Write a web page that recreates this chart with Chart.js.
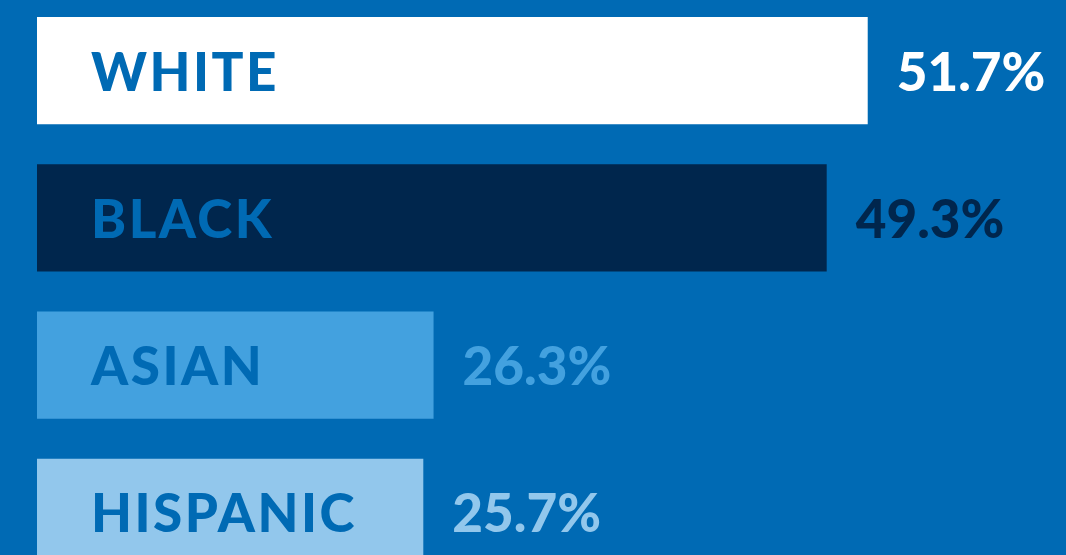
<!DOCTYPE html>
<html>
<head>
<meta charset="utf-8">
<script src="https://cdn.jsdelivr.net/npm/chart.js@4"></script>
<style>
  html, body { margin: 0; padding: 0; background: #006ab4; overflow: hidden; }
  #wrap { position: absolute; left: 0; top: -3px; width: 1066px; height: 589px; }
</style>
</head>
<body>
<div id="wrap"><canvas id="bars"></canvas></div>
<script>
// data
const groups = ['WHITE', 'BLACK', 'ASIAN', 'HISPANIC'];
const shares = [51.7, 49.3, 26.3, 25.7];

const bg = '#006ab4';
const barColors = ['#ffffff', '#00264d', '#43a1df', '#92c7ec'];
const valueColors = ['#ffffff', '#00264d', '#43a1df', '#92c7ec'];
const FONT = '"Lato", sans-serif';

// draws the group name inside each bar and the value after it
const labelPlugin = {
  id: 'barLabels',
  afterDatasetsDraw(chart) {
    const ctx = chart.ctx;
    const meta = chart.getDatasetMeta(0);
    ctx.save();
    ctx.textBaseline = 'alphabetic';
    ctx.textAlign = 'left';
    meta.data.forEach((bar, i) => {
      const y = bar.y + 20;
      ctx.font = '900 53px ' + FONT;
      ctx.letterSpacing = '2.5px';
      ctx.fillStyle = bg;
      ctx.fillText(groups[i], chart.chartArea.left + 54, y);
      ctx.letterSpacing = '0px';
      ctx.fillStyle = valueColors[i];
      ctx.fillText(shares[i].toFixed(1) + '%', bar.x + 29, y);
    });
    ctx.restore();
  }
};

new Chart(document.getElementById('bars'), {
  type: 'bar',
  data: {
    labels: groups,
    datasets: [{
      data: shares,
      backgroundColor: barColors,
      borderWidth: 0,
      barPercentage: 0.727,
      categoryPercentage: 1
    }]
  },
  options: {
    indexAxis: 'y',
    responsive: true,
    maintainAspectRatio: false,
    animation: false,
    layout: { padding: { left: 37, right: 0, top: 0, bottom: 0 } },
    plugins: {
      legend: { display: false },
      tooltip: { enabled: false }
    },
    scales: {
      x: { display: false, min: 3.1, max: 63.3 },
      y: { display: false }
    }
  },
  plugins: [labelPlugin]
});
</script>
</body>
</html>
